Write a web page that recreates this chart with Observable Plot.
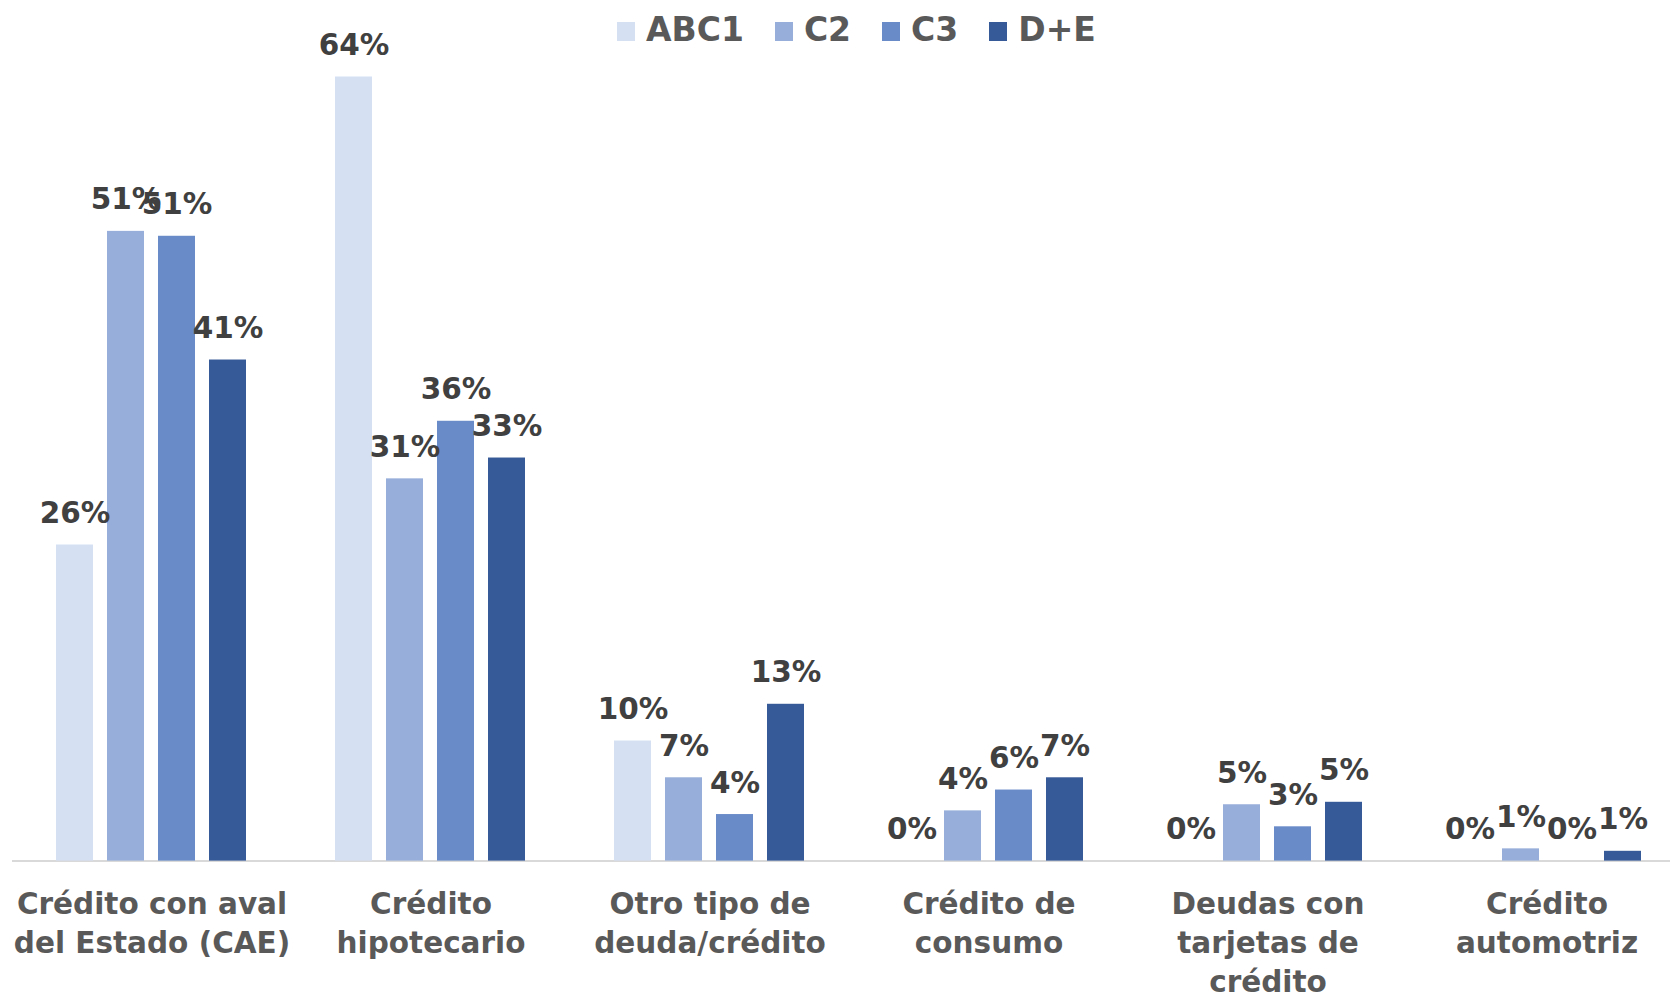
<!DOCTYPE html>
<html>
<head>
<meta charset="utf-8">
<script src="https://cdn.jsdelivr.net/npm/d3@7"></script>
<script src="https://cdn.jsdelivr.net/npm/@observablehq/plot@0.6"></script>
<style>
  html, body { margin: 0; padding: 0; background: #fff; }
  #wrap { position: relative; width: 1670px; height: 995px; overflow: hidden; }
  #legend { position: absolute; left: 617px; top: 10px; display: flex; align-items: center;
            font-family: "DejaVu Sans", sans-serif; font-weight: bold; font-size: 33px; color: #595959; }
  .item { display: flex; align-items: center; margin-right: 31px; }
  .sw { width: 18px; height: 19px; margin-right: 11px; margin-top: 3px; }
  #chart { position: absolute; left: 0; top: 0; }
</style>
</head>
<body>
<div id="wrap">
  <div id="chart"></div>
  <div id="legend"></div>
</div>
<script>
const categories = [
  "Crédito con aval del Estado (CAE)",
  "Crédito hipotecario",
  "Otro tipo de deuda/crédito",
  "Crédito de consumo",
  "Deudas con tarjetas de crédito",
  "Crédito automotriz"
];
const tickLabels = [
  "Crédito con aval\ndel Estado (CAE)",
  "Crédito\nhipotecario",
  "Otro tipo de\ndeuda/crédito",
  "Crédito de\nconsumo",
  "Deudas con\ntarjetas de\ncrédito",
  "Crédito\nautomotriz"
];
const series = ["ABC1", "C2", "C3", "D+E"];
const colors = ["#D5E0F3", "#97AEDA", "#698BC8", "#365997"];

const valuesABC1 = [0.258, 0.640, 0.098, 0.000, 0.000, 0.000];
const valuesC2   = [0.514, 0.312, 0.068, 0.041, 0.046, 0.010];
const valuesC3   = [0.510, 0.359, 0.038, 0.058, 0.028, 0.000];
const valuesDE   = [0.409, 0.329, 0.128, 0.068, 0.048, 0.008];

const seriesValues = [valuesABC1, valuesC2, valuesC3, valuesDE];
const data = [];
categories.forEach((c, i) => {
  series.forEach((s, j) => {
    data.push({category: c, series: s, value: seriesValues[j][i]});
  });
});

const FONT = "DejaVu Sans";
const fmt = d3.format(".0%");

const chart = Plot.plot({
  width: 1670,
  height: 995,
  marginTop: 3,
  marginBottom: 134.4,
  marginLeft: 0,
  marginRight: 0,
  style: {fontFamily: FONT, background: "transparent"},
  fx: {domain: categories, range: [11.7, 1687.3], padding: 0, label: null, axis: null},
  x: {domain: series, paddingInner: 0.27, paddingOuter: 0.868, axis: null},
  y: {domain: [0, 0.7], axis: null},
  color: {domain: series, range: colors},
  marks: [
    Plot.ruleY([0], {stroke: "#D9D9D9", strokeWidth: 2}),
    Plot.barY(data, {fx: "category", x: "series", y: "value", fill: "series"}),
    Plot.text(data, {
      fx: "category", x: "series", y: "value",
      text: d => fmt(d.value),
      lineAnchor: "bottom", dy: -22,
      fontSize: 29.5, fontWeight: "bold", fill: "#404040", fontFamily: FONT
    }),
    Plot.axisFx({
      anchor: "bottom",
      tickSize: 0, tickPadding: 25,
      tickFormat: d => tickLabels[categories.indexOf(d)],
      fontSize: 29.5, fontWeight: "bold", fill: "#595959",
      lineHeight: 1.32, label: null, fontFamily: FONT
    })
  ]
});
document.getElementById("chart").appendChild(chart);

const legend = document.getElementById("legend");
series.forEach((s, j) => {
  const item = document.createElement("div");
  item.className = "item";
  const sw = document.createElement("div");
  sw.className = "sw";
  sw.style.background = colors[j];
  const t = document.createElement("span");
  t.textContent = s;
  item.appendChild(sw);
  item.appendChild(t);
  legend.appendChild(item);
});
</script>
</body>
</html>
